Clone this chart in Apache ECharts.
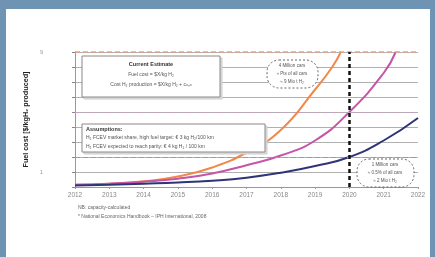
<!DOCTYPE html>
<html><head><meta charset="utf-8">
<script src="https://cdn.jsdelivr.net/npm/echarts@6/dist/echarts.min.js"></script>
<style>html,body{margin:0;padding:0;background:#fff;overflow:hidden;}
#wrap{position:relative;width:435px;height:300px;background:#fff;}
#bt{position:absolute;left:0;top:0;width:435px;height:9px;background:#6e93b3;}
#bl{position:absolute;left:0;top:0;width:6px;height:300px;background:#6e93b3;}
#br{position:absolute;left:430px;top:0;width:5px;height:300px;background:#6e93b3;}
#c{position:absolute;left:0;top:0;width:435px;height:257px;}</style>
</head><body><div id="wrap"><div id="bt"></div><div id="bl"></div><div id="br"></div><div id="c"></div></div>
<script>
var xTicks = [2012, 2013, 2014, 2015, 2016, 2017, 2018, 2019, 2020, 2021, 2022];
var orangeSeries = [[2012,0.15],[2013,0.22],[2014,0.38],[2015,0.7],[2016,1.3],[2017,2.3],[2018,3.8],[2019,6.5],[2019.5,8.0],[2019.75,9.0]];
var pinkSeries = [[2012,0.15],[2013,0.22],[2014,0.35],[2015,0.55],[2016,0.9],[2017,1.45],[2018,2.1],[2019,3.1],[2020,5.0],[2021,7.6],[2021.35,9.0]];
var navySeries = [[2012,0.1],[2013,0.15],[2014,0.22],[2015,0.3],[2016,0.42],[2017,0.62],[2018,0.95],[2019,1.4],[2020,2.0],[2021,3.1],[2022,4.6]];
var yLabelsShown = [1, 9];
var targetLevels = {orange: 9, pink: 5, navy: 2};
var deadlineYear = 2020;

var F = 'Liberation Sans, Arial, sans-serif';
var chart = echarts.init(document.getElementById('c'), null, {renderer:'canvas'});
function txt(x,y,t,o){return {type:'text',z:6,x:x,y:y,style:Object.assign({text:t,fill:'#555',font:'5px '+F},o||{})};}
chart.setOption({
  animation:false,
  backgroundColor:'transparent',
  grid:{left:75,right:17,top:52,bottom:70,containLabel:false},
  xAxis:{type:'value',min:2012,max:2022,interval:1,
    axisLine:{lineStyle:{color:'#999'}},axisTick:{show:true,length:2,lineStyle:{color:'#999'}},
    axisLabel:{color:'#888',fontSize:6.5,fontFamily:F,margin:5,formatter:function(v){return xTicks.indexOf(v)>=0?String(v):'';}},
    splitLine:{show:false}},
  yAxis:{type:'value',min:0,max:9,interval:1,
    name:'Fuel cost [$/kgH\u2082 produced]',nameLocation:'middle',nameGap:36,
    nameTextStyle:{color:'#222',fontSize:7.2,fontWeight:'bold',fontFamily:F},
    axisLine:{show:true,lineStyle:{color:'#999'}},axisTick:{show:true,length:3,lineStyle:{color:'#888'}},
    axisLabel:{color:'#999',fontSize:5.5,fontFamily:F,margin:32,formatter:function(v){return yLabelsShown.indexOf(v)>=0?String(v):'';}},
    splitLine:{show:true,lineStyle:{color:'#b0b0b0',width:1}}},
  series:[
    {name:'orange',type:'line',data:orangeSeries,smooth:true,showSymbol:false,lineStyle:{color:'#f0884a',width:2},
      markLine:{silent:true,symbol:'none',label:{show:false},lineStyle:{color:'#f0a080',type:[5,3],width:1.5},data:[{yAxis:targetLevels.orange}]}},
    {name:'pink',type:'line',data:pinkSeries,smooth:true,showSymbol:false,lineStyle:{color:'#c455a8',width:2},
      markLine:{silent:true,symbol:'none',label:{show:false},lineStyle:{color:'#c9a0c4',type:[5,3],width:1.2},data:[{yAxis:targetLevels.pink}]}},
    {name:'navy',type:'line',data:navySeries,smooth:true,showSymbol:false,lineStyle:{color:'#2e3475',width:2},
      markLine:{silent:true,symbol:'none',label:{show:false},lineStyle:{color:'#8a9cc4',type:[5,3],width:1.2},data:[{yAxis:targetLevels.navy}]}},
    {name:'deadline',type:'line',data:[],
      markLine:{silent:true,symbol:'none',label:{show:false},lineStyle:{color:'#111',type:[4,3],width:2.5},data:[{xAxis:deadlineYear}]}}
  ],
  graphic:[
    {type:'rect',z:5,shape:{x:82,y:56,width:138,height:41},style:{fill:'#fff',stroke:'#888',lineWidth:1}},
    {type:'rect',z:4,shape:{x:84,y:58,width:138,height:41},style:{fill:'#ddd',stroke:'#ccc'}},
    txt(151,61,'Current Estimate',{font:'bold 5.5px '+F,fill:'#333',textAlign:'center'}),
    txt(151,72,'Fuel cost = $X/kg H\u2082',{textAlign:'center'}),
    txt(151,82,'Cost H\u2082 production = $X/kg H\u2082 + c\u2092\u2099\u2092',{textAlign:'center'}),
    {type:'rect',z:5,shape:{x:82,y:124,width:183,height:28},style:{fill:'#fff',stroke:'#888',lineWidth:1}},
    {type:'rect',z:4,shape:{x:84,y:126,width:183,height:28},style:{fill:'#ddd',stroke:'#ccc'}},
    txt(86,126,'Assumptions:',{font:'bold 5.5px '+F,fill:'#333'}),
    txt(86,135,'H\u2082 FCEV market share, high fuel target: \u20ac 3 kg H\u2082/100 km'),
    txt(86,144,'H\u2082 FCEV expected to reach parity: \u20ac 4 kg H\u2082 / 100 km'),
    {type:'rect',z:5,shape:{x:267,y:60,width:51,height:28,r:12},style:{fill:'#fff',stroke:'#666',lineDash:[2,2],lineWidth:1}},
    txt(292,63,'4 Million cars',{textAlign:'center',font:'4.5px '+F}),
    txt(292,71,'\u2248 Pts of all cars',{textAlign:'center',font:'4.5px '+F}),
    txt(292,79,'\u2248 9 Mio t H\u2082',{textAlign:'center',font:'4.5px '+F}),
    {type:'rect',z:5,shape:{x:357,y:159,width:57,height:28,r:12},style:{fill:'#fff',stroke:'#666',lineDash:[2,2],lineWidth:1}},
    txt(385,162,'1 Million cars',{textAlign:'center',font:'4.5px '+F}),
    txt(385,170,'\u2248 0.5% of all cars',{textAlign:'center',font:'4.5px '+F}),
    txt(385,178,'\u2248 2 Mio t H\u2082',{textAlign:'center',font:'4.5px '+F}),
    txt(78,205,'NB: capacity-calculated',{fill:'#666'}),
    txt(78,214,'* National Economics Handbook \u2013 IPH International, 2008',{fill:'#666'})
  ]
});
</script></body></html>
